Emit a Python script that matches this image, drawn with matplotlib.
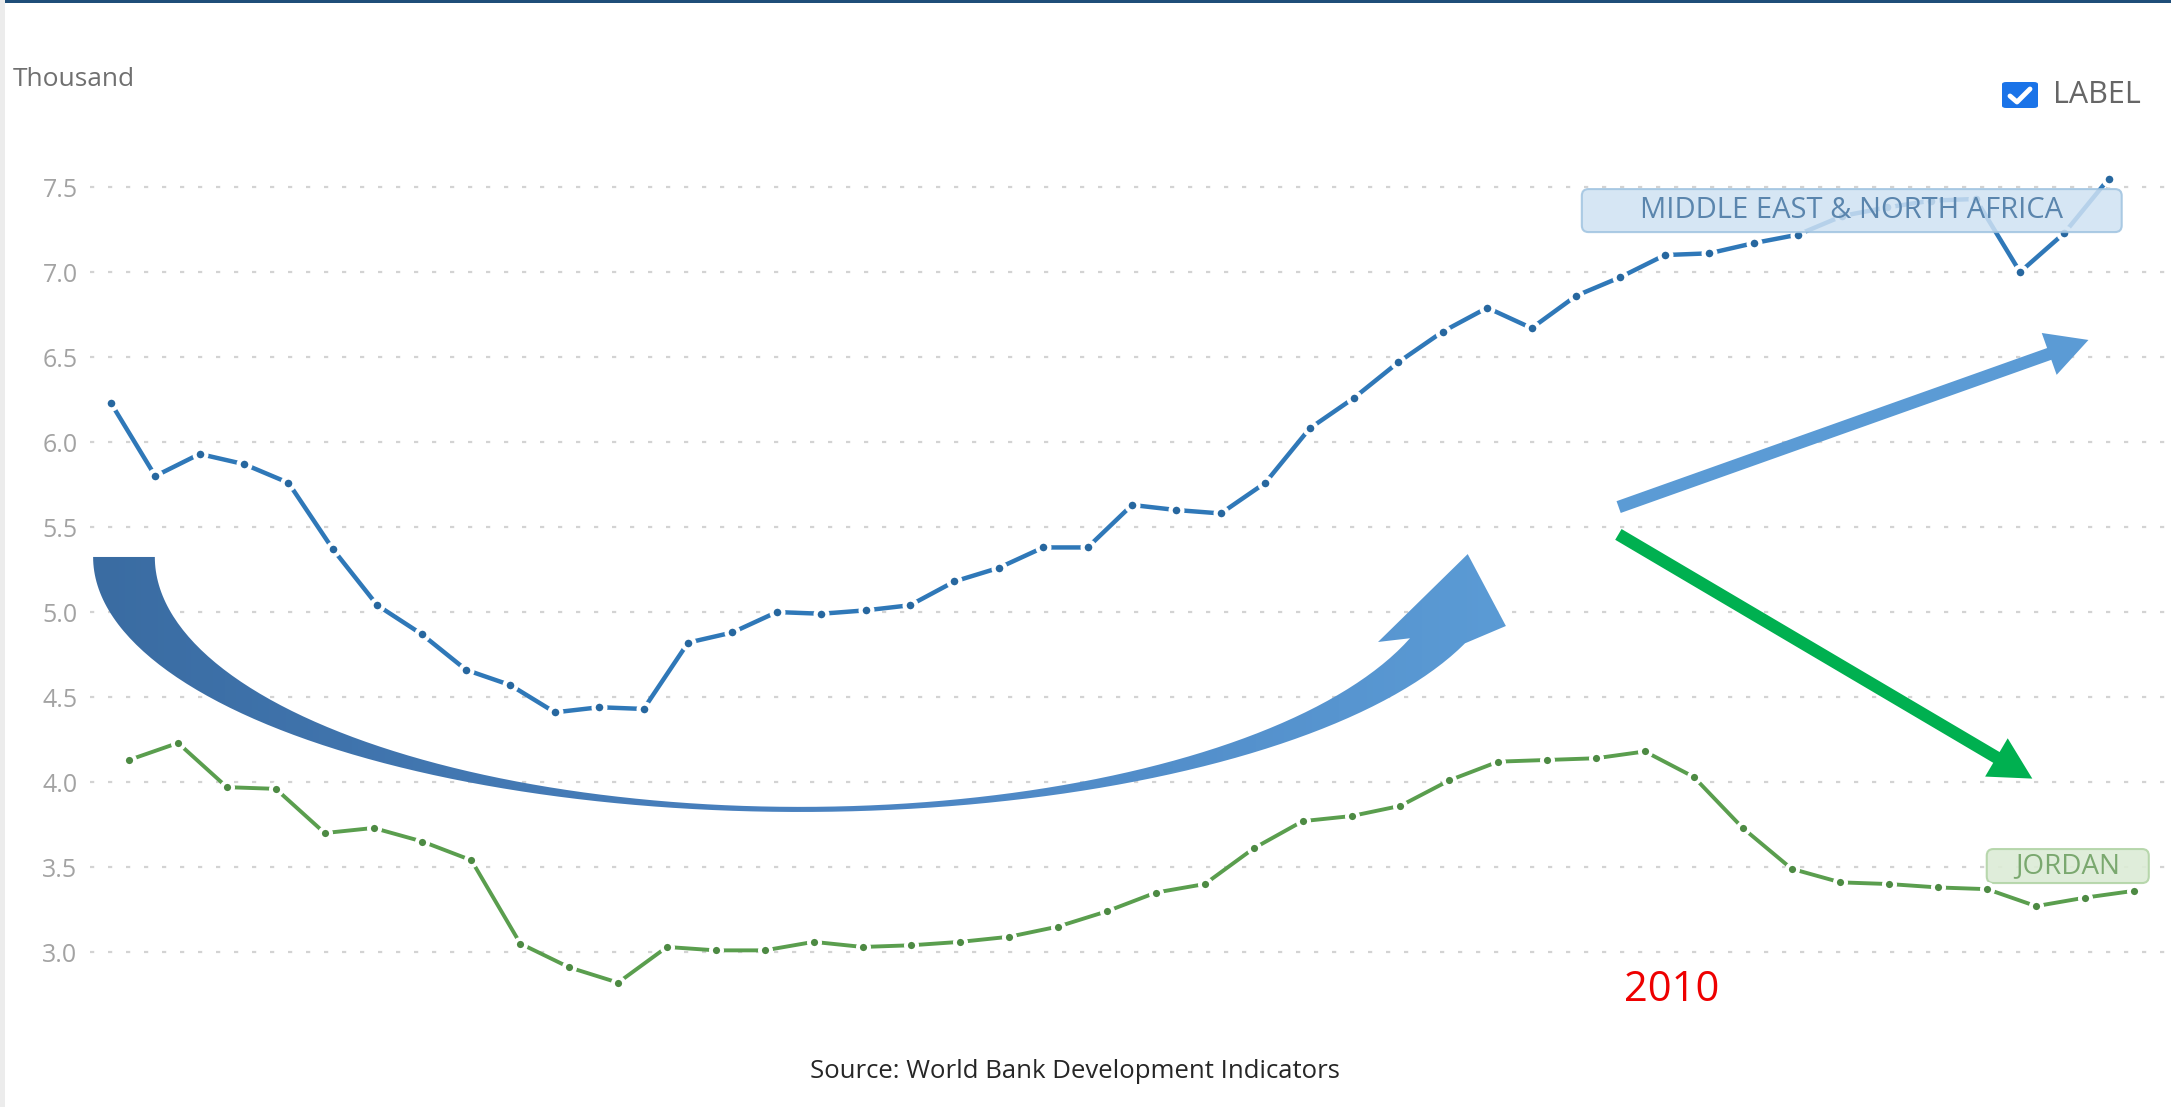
import numpy as np
import matplotlib
matplotlib.use("Agg")
import matplotlib.pyplot as plt
from matplotlib.patches import FancyBboxPatch, PathPatch, FancyArrowPatch, Rectangle
from matplotlib.path import Path
from matplotlib.colors import LinearSegmentedColormap
from matplotlib.lines import Line2D

plt.rcParams['font.family'] = ['Open Sans', 'DejaVu Sans']

#*************************** data (thousand) ***************************
mena_years = list(range(1977, 2023))
mena_values = [6.23, 5.80, 5.93, 5.87, 5.76, 5.37, 5.04, 4.87, 4.66, 4.57,
               4.41, 4.44, 4.43, 4.82, 4.88, 5.00, 4.99, 5.01, 5.04, 5.18,
               5.26, 5.38, 5.38, 5.63, 5.60, 5.58, 5.76, 6.08, 6.26, 6.47,
               6.65, 6.79, 6.67, 6.86, 6.97, 7.10, 7.11, 7.17, 7.22, 7.33,
               7.38, 7.42, 7.43, 7.00, 7.23, 7.55]

jordan_years = list(range(1981, 2023))
jordan_values = [4.13, 4.23, 3.97, 3.96, 3.70, 3.73, 3.65, 3.54, 3.05, 2.91,
                 2.82, 3.03, 3.01, 3.01, 3.06, 3.03, 3.04, 3.06, 3.09, 3.15,
                 3.24, 3.35, 3.40, 3.61, 3.77, 3.80, 3.86, 4.01, 4.12, 4.13,
                 4.14, 4.18, 4.03, 3.73, 3.49, 3.41, 3.40, 3.38, 3.37, 3.27,
                 3.32, 3.36]

y_ticks = [3.0, 3.5, 4.0, 4.5, 5.0, 5.5, 6.0, 6.5, 7.0, 7.5]
y_tick_labels = ["3.0", "3.5", "4.0", "4.5", "5.0", "5.5", "6.0", "6.5", "7.0", "7.5"]

mena_name = "MIDDLE EAST & NORTH AFRICA"
jordan_name = "JORDAN"

#*************************** figure ***************************
W, H = 2171, 1107
fig = plt.figure(figsize=(W / 100, H / 100), dpi=100)
fig.patch.set_facecolor("white")

def fx(px):
    return px / W

def fy(py):
    return 1 - py / H

ax = fig.add_axes([fx(90), fy(1000), 1 - fx(90), 900 / H])
ax.set_xlim(1976.53, 2023.40)
ax.set_ylim(2.718, 8.012)

# jordan comes from a second screenshot with its own x spacing
ax2 = ax.twiny()
ax2.set_xlim(1980.20, 2022.76)

for a in (ax, ax2):
    for s in a.spines.values():
        s.set_visible(False)
    a.set_xticks([])

ax.set_yticks(y_ticks)
ax.set_yticklabels(y_tick_labels)
ax.tick_params(axis="y", length=0, pad=9, labelsize=18, labelcolor="#a3a3a3")
ax.grid(axis="y", color="#d3d3d3", linestyle=(0, (1.9, 6.2)), linewidth=1.6)
ax.set_axisbelow(True)

ax.plot(mena_years, mena_values, color="#2f78b8", lw=3.2, marker="o", ms=8.5,
        mfc="#27679f", mec="white", mew=3, zorder=3)
ax2.plot(jordan_years, jordan_values, color="#5a9e4e", lw=2.8, marker="o", ms=8,
         mfc="#4d8a43", mec="white", mew=2.8, zorder=3)

#*************************** series labels ***************************
box = FancyBboxPatch((2010.13, 7.235), 12.16, 0.253,
                     boxstyle="round,pad=0,rounding_size=0.15", mutation_aspect=0.26,
                     facecolor="#cfe2f3", edgecolor="#9fc3e0", lw=1.5, alpha=0.85, zorder=4)
ax.add_patch(box)
ax.text(2016.2, 7.362, mena_name, color="#5a85ad", fontsize=21,
        ha="center", va="center", zorder=5)

box = FancyBboxPatch((2019.25, 3.406), 3.65, 0.2,
                     boxstyle="round,pad=0,rounding_size=0.15", mutation_aspect=0.26,
                     facecolor="#dcecd6", edgecolor="#b2d4a6", lw=1.5, alpha=0.9, zorder=4)
ax.add_patch(box)
ax.text(2021.08, 3.506, jordan_name, color="#7aa86f", fontsize=20,
        ha="center", va="center", zorder=5)

#*************************** curved arrow ***************************
cx, cy = 1992.52, 5.324
a_out, b_out, end_out = 15.92, 1.50, 2007.50
a_in, b_in, end_in = 14.53, 1.47, 2006.26
head_right = (2008.42, 4.918)
head_tip = (2007.56, 5.341)
head_left = (2005.54, 4.824)

t1 = np.linspace(np.pi, 2 * np.pi - np.arccos((end_out - cx) / a_out), 200)
t2 = np.linspace(2 * np.pi - np.arccos((end_in - cx) / a_in), np.pi, 200)
outer = np.column_stack([cx + a_out * np.cos(t1), cy + b_out * np.sin(t1)])
inner = np.column_stack([cx + a_in * np.cos(t2), cy + b_in * np.sin(t2)])
verts = np.vstack([outer, [head_right, head_tip, head_left], inner, outer[:1]])
clip = PathPatch(Path(verts), facecolor="none", edgecolor="none", transform=ax.transData)
ax.add_patch(clip)
grad = np.linspace(0, 1, 256).reshape(1, -1)
cmap = LinearSegmentedColormap.from_list("arr", ["#3a6ca2", "#4a82c0", "#5b9bd5"])
im = ax.imshow(grad, extent=[1976.5, 2008.6, 3.7, 5.4], aspect="auto", cmap=cmap,
               zorder=3, interpolation="bilinear")
im.set_clip_path(clip)
ax.set_xlim(1976.53, 2023.40)
ax.set_ylim(2.718, 8.012)

#*************************** straight arrows ***************************
ax.add_patch(FancyArrowPatch((2010.9, 5.612), (2021.6, 6.606),
                             arrowstyle="simple,head_length=1.5,head_width=1.6,tail_width=0.45",
                             mutation_scale=20, color="#5b9bd5", lw=0, zorder=4))
ax.add_patch(FancyArrowPatch((2010.9, 5.465), (2020.33, 4.012),
                             arrowstyle="simple,head_length=1.5,head_width=1.6,tail_width=0.45",
                             mutation_scale=20, color="#00b050", lw=0, zorder=4))

ax.text(2012.16, 2.776, "2010", color="#ee0000", fontsize=30, ha="center", va="center")

#*************************** page furniture ***************************
fig.text(fx(13), fy(80), "Thousand", color="#707070", fontsize=19, ha="left", va="center")

fig.patches.append(FancyBboxPatch((fx(2002), fy(108)), fx(36), 26 / H,
                                  boxstyle="round,pad=0,rounding_size=0.002",
                                  facecolor="#1a73e8", edgecolor="none",
                                  transform=fig.transFigure, figure=fig))
fig.lines.append(Line2D([fx(2010), fx(2017), fx(2030)], [fy(96), fy(102), fy(89)],
                        color="white", lw=3.5, solid_capstyle="round",
                        solid_joinstyle="round", transform=fig.transFigure, figure=fig))
fig.text(fx(2053), fy(95), "LABEL", color="#666666", fontsize=22, ha="left", va="center")

fig.patches.append(Rectangle((0, fy(3)), 1, 3 / H, facecolor="#1f4e79", edgecolor="none",
                             transform=fig.transFigure, figure=fig))
fig.patches.append(Rectangle((0, 0), fx(5), 1, facecolor="#ececec", edgecolor="none",
                             transform=fig.transFigure, figure=fig))

fig.text(fx(1075), fy(1072), "Source: World Bank Development Indicators",
         color="#262626", fontsize=18.5, ha="center", va="center")

fig.savefig("out.png", dpi=100)
